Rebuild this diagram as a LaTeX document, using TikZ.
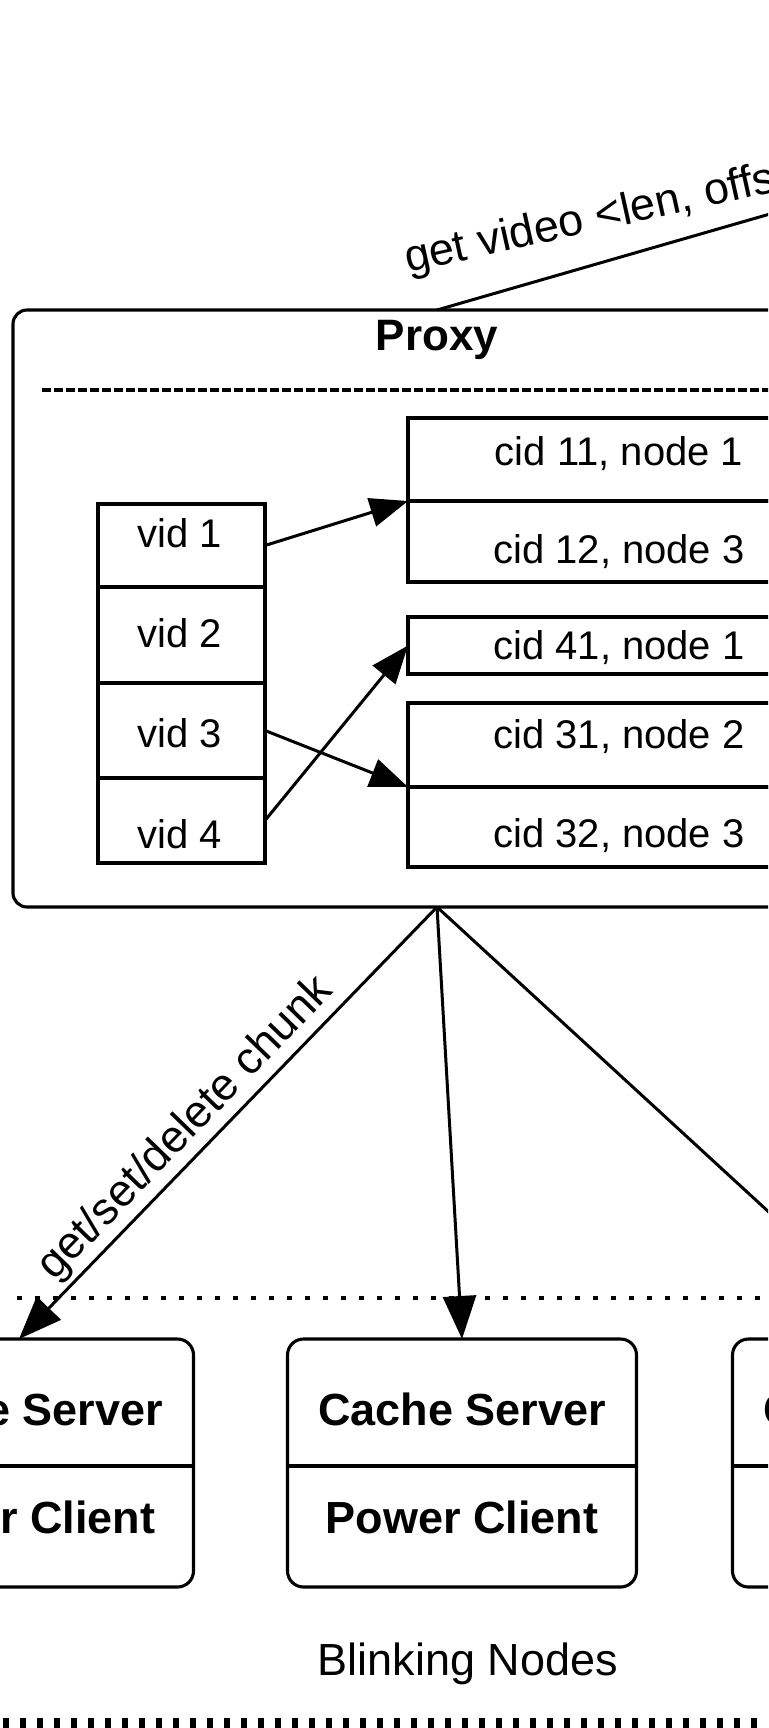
\documentclass[tikz,border=0pt]{standalone}
\usepackage{fontspec}
\setmainfont{Liberation Sans}
\usetikzlibrary{arrows.meta,calc}
\begin{document}
\begin{tikzpicture}[x=1pt,y=-1pt,
  every node/.style={inner sep=0pt, outer sep=0pt},
  box/.style={draw, line width=3.1pt},
  cell/.style={draw, line width=3.1pt, anchor=north west},
  conn/.style={line width=3pt, -{Triangle[length=38pt,width=29pt]}},
  bigconn/.style={line width=3pt, -{Triangle[length=43pt,width=33pt]}},
  lbl/.style={font=\fontsize{40}{48}\selectfont, anchor=base},
  midlbl/.style={font=\fontsize{45}{54}\selectfont},
  bold/.style={font=\fontsize{45}{54}\selectfont\bfseries, anchor=base},
  cache/.style={draw, line width=3.1pt, rounded corners=16pt, minimum width=349pt, minimum height=248pt, anchor=north}]
\useasboundingbox (0,0) rectangle (768,1728);
\clip (0,0) rectangle (768,1728);

% Proxy box
\node[box, rounded corners=14pt, minimum width=848pt, minimum height=597pt] (proxy) at (437,608.5) {};
\node[font=\fontsize{44}{52}\selectfont\bfseries, anchor=base] (proxylbl) at (437,350) {Proxy};
\draw[line width=3.6pt, dash pattern=on 9pt off 3pt] (42,390) -- (832,390);

% client link
\coordinate (client) at (1141,107);
\draw[line width=3pt] (proxy.north) -- (client);
\node[midlbl, rotate=12.5, anchor=base west] (gv) at (408,273) {get video <len, offs};

% vid table
\node[cell, minimum width=167pt, minimum height=83pt] (v1) at (98,504) {};
\node[cell, minimum width=167pt, minimum height=96pt] (v2) at (98,587) {};
\node[cell, minimum width=167pt, minimum height=95pt] (v3) at (98,683) {};
\node[cell, minimum width=167pt, minimum height=85pt] (v4) at (98,778) {};
\node[lbl] (v1t) at (180,547) {vid 1};
\node[lbl] (v2t) at (180,647) {vid 2};
\node[lbl] (v3t) at (180,747) {vid 3};
\node[lbl] (v4t) at (180,848) {vid 4};

% cid tables
\node[cell, minimum width=422pt, minimum height=83pt] (c11) at (408,418) {};
\node[cell, minimum width=422pt, minimum height=81pt] (c12) at (408,501) {};
\node[cell, minimum width=422pt, minimum height=57pt] (c41) at (408,617) {};
\node[cell, minimum width=422pt, minimum height=84pt] (c31) at (408,703) {};
\node[cell, minimum width=422pt, minimum height=80pt] (c32) at (408,787) {};
\node[lbl] (c11t) at (619,465) {cid 11, node 1};
\node[lbl] (c12t) at (619,563) {cid 12, node 3};
\node[lbl] (c41t) at (619,659) {cid 41, node 1};
\node[lbl] (c31t) at (619,748) {cid 31, node 2};
\node[lbl] (c32t) at (619,847) {cid 32, node 3};

\draw[conn] (v1.east) -- (c11.south west);
\draw[conn] (v3.east) -- (c31.south west);
\draw[conn] (v4.east) -- (c41.west);

% blinking nodes
\draw[line width=3.6pt, dash pattern=on 5pt off 13pt] (17,1298) -- (768,1298);
\node[cache] (lbox) at (19,1339) {};
\node[cache] (mbox) at (462,1339) {};
\node[cache] (rbox) at (907,1339) {};
\foreach \b in {lbox,mbox,rbox}{
  \draw[line width=3.1pt] ($(\b.north west)+(0,127)$) -- ($(\b.north east)+(0,127)$);
}
\node[bold] (ls) at (19,1425) {Cache Server};
\node[bold] (lc) at (19,1533) {Power Client};
\node[bold] (ms) at (462,1425) {Cache Server};
\node[bold] (mc) at (462,1533) {Power Client};
\node[bold] (rs) at (907,1425) {Cache Server};
\node[bold] (rc) at (907,1533) {Power Client};

\draw[bigconn] (proxy.south) -- (lbox.north);
\draw[bigconn] (proxy.south) -- (mbox.north);
\draw[bigconn] (proxy.south) -- (rbox.north);
\path (lbox.north) -- (proxy.south) node[midlbl, pos=0.444, sloped, above=5pt] (chunk) {get/set/delete chunk};

\node[font=\fontsize{45}{54}\selectfont, anchor=base] (bn) at (468,1675) {Blinking Nodes};
\draw[line width=10pt, dash pattern=on 6pt off 11pt] (3,1723) -- (768,1723);
\end{tikzpicture}
\end{document}
